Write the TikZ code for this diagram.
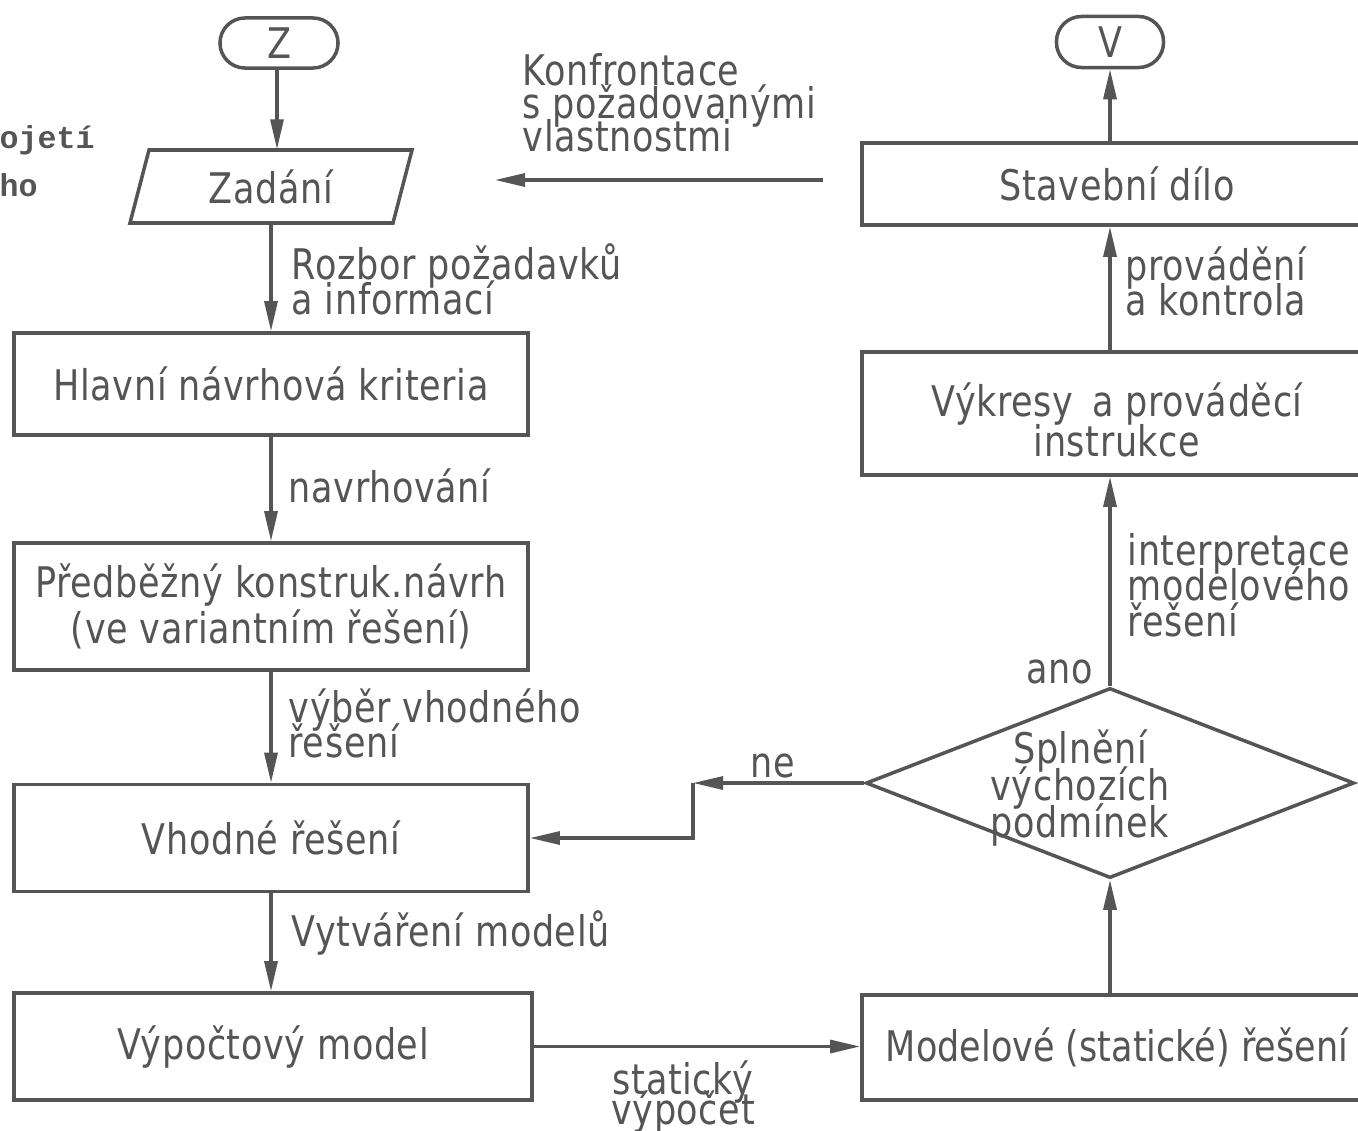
\documentclass[tikz,border=0pt]{standalone}
\usepackage{fontspec}
\setmainfont{DejaVu Sans}[FakeStretch=0.83,LetterSpace=1.5]
\newfontfamily\twfont{Liberation Mono}
\usetikzlibrary{arrows.meta,shapes.geometric}
\definecolor{ink}{HTML}{555555}
\newcommand\dfontat[1]{\fontsize{12}{#1}\selectfont\lineskiplimit=-100pt\lineskip=0pt}
\newcommand\dfont{\dfontat{10}}
\begin{document}
\begin{tikzpicture}[x=0.01cm,y=-0.01cm,
  every node/.style={text=ink},
  box/.style={draw=ink,line width=1pt,rectangle,inner sep=0pt,font=\dfont,align=center},
  term/.style={draw=ink,line width=1pt,rectangle,rounded corners=0.25cm,inner sep=0pt,font=\dfont},
  arr/.style={draw=ink,line width=0.9pt,-{Triangle[length=3mm,width=1.3mm]}},
  lbl/.style={font=\dfont,align=left,anchor=north west,inner sep=0pt},
  shp/.style={draw=ink,line width=1pt}]
\useasboundingbox (0,0) rectangle (1358,1130);
\clip (0,0) rectangle (1358,1130);

% left column
\node[term,minimum width=1.18cm,minimum height=0.50cm] (Z) at (279,43) {Z};
\draw[shp] (149,150) -- (412,150) -- (393,223) -- (130,223) -- cycle;
\node[inner sep=0pt,minimum width=2.4cm,minimum height=0.73cm,font=\dfont] (zad) at (271,186.5) {Zadání};
\node[box,minimum width=5.14cm,minimum height=1.02cm] (hlav) at (271,384) {Hlavní návrhová kriteria};
\node[box,minimum width=5.14cm,minimum height=1.27cm,font={\dfontat{13.2}}] (pred) at (271,606.5) {Předběžný konstruk.návrh\\(ve variantním řešení)};
\node[box,minimum width=5.14cm,minimum height=1.07cm] (vhod) at (271,838) {Vhodné řešení};
\node[box,minimum width=5.18cm,minimum height=1.07cm] (vyp) at (273,1046.5) {Výpočtový model};

% right column
\node[term,minimum width=1.07cm,minimum height=0.51cm] (V) at (1110,42) {V};
\node[box,minimum width=5.10cm,minimum height=0.82cm] (stav) at (1117,184) {Stavební dílo};
\node[box,minimum width=5.10cm,minimum height=1.23cm,
  label={[font={\dfontat{11.4}},align=center,text=ink,yshift=-0.06cm]center:Výkresy\, a prováděcí\\instrukce}] (vykr) at (1117,413.5) {};
\node[draw=ink,line width=1pt,diamond,inner sep=0pt,minimum width=4.88cm,minimum height=1.90cm,
  label={[font={\dfontat{10.5}},align=center,text=ink,xshift=-0.3cm,yshift=-0.05cm]center:Splnění\\výchozích\\podmínek}] (dia) at (1110,783) {};
\node[box,minimum width=5.10cm,minimum height=1.05cm,font={\dfont\addfontfeatures{LetterSpace=0}}] (model) at (1117,1047.5) {Modelové (statické) řešení};

% coordinates for free ends
\coordinate (k1) at (823,180);
\coordinate (k2) at (495,180);
\coordinate (nec) at (693,783);

% connectors left
\draw[arr] (Z.south -| zad.north) ++(6,0) coordinate (zs) (zs) -- (zs |- zad.north);
\draw[arr] (zad.south) -- (hlav.north);
\draw[arr] (hlav.south) -- (pred.north);
\draw[arr] (pred.south) -- (vhod.north);
\draw[arr] (vhod.south) -- (vhod.south |- vyp.north);
\draw[arr] (vyp.east) -- (vyp.east -| model.west);

% connectors right
\draw[arr] (dia.south |- model.north) -- (dia.south);
\draw[arr] (dia.north) -- (dia.north |- vykr.south);
\draw[arr] (dia.north |- vykr.north) -- (dia.north |- stav.south);
\draw[arr] (dia.north |- stav.north) -- (V.south);
\draw[arr] (k1) -- (k2);
\draw[arr] (dia.west) -- (nec);
\draw[arr] (nec) |- (vhod.east);

% labels
\node[lbl] (l1) at (291,243) {Rozbor požadavků\\a informací};
\node[lbl] (l2) at (288,468) {navrhování};
\node[lbl] (l3) at (288,688) {výběr vhodného\\řešení};
\node[lbl] (l4) at (291,910) {Vytváření modelů};
\node[lbl,anchor=north,align=center,font={\dfontat{8.6}}] (l5) at (683,1060) {statický\\výpočet};
\node[lbl] (l6) at (1125,246) {provádění\\a kontrola};
\node[lbl,font={\dfontat{10}}] (l7) at (1127,533) {interpretace\\modelového\\řešení};
\node[font=\dfont,inner sep=0pt] (l8) at (1060,672) {ano};
\node[font=\dfont,inner sep=0pt] (l9) at (773,766) {ne};
\node[lbl,font={\dfontat{9.4}}] (l10) at (522,53) {Konfrontace\\s požadovanými\\vlastnostmi};

% clipped margin text
\node[anchor=west,inner sep=0pt,font={\twfont\bfseries\fontsize{9}{10}\selectfont}] (m1) at (-1,140) {ojetí};
\node[anchor=west,inner sep=0pt,font={\twfont\bfseries\fontsize{9}{10}\selectfont}] (m2) at (-1,185) {ho};
\end{tikzpicture}
\end{document}
